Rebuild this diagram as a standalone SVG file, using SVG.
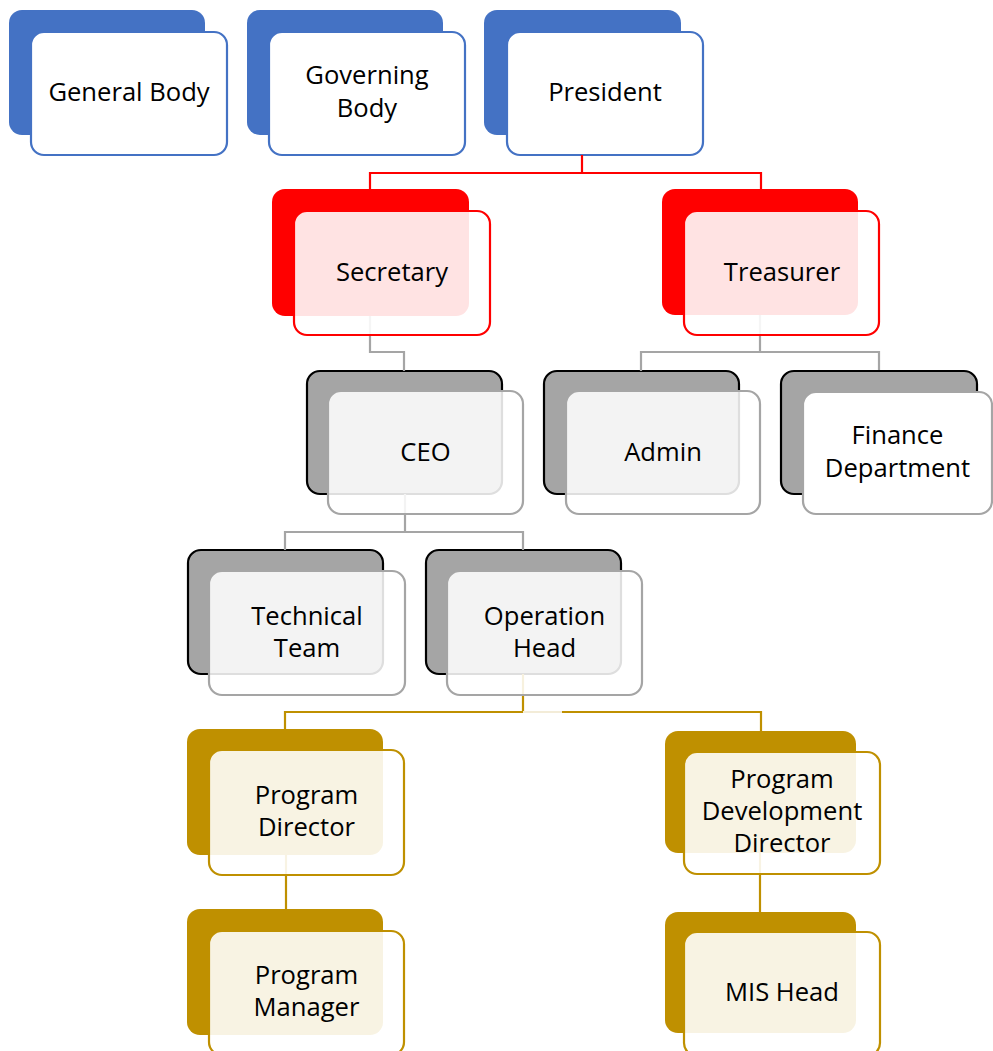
<svg xmlns="http://www.w3.org/2000/svg" width="993" height="1051" viewBox="0 0 993 1051">
<style>
text{font-family:"Open Sans","Liberation Sans",sans-serif;font-size:25.6px;fill:#000;text-anchor:middle}
.bb{fill:#4472C4}
.bf{fill:#fff;stroke:#4472C4;stroke-width:2.2}
.rb{fill:#FF0000}
.rf{fill:#fff;fill-opacity:0.89;stroke:#FF0000;stroke-width:2.2}
.gb{fill:#A5A5A5;stroke:#000;stroke-width:2.2}
.gf{fill:#fff;fill-opacity:0.87;stroke:#A5A5A5;stroke-width:2.2}
.ob{fill:#BF9000}
.of{fill:#fff;fill-opacity:0.89;stroke:#BF9000;stroke-width:2.2}
.c{fill:none;stroke-width:2.2}
.cr{stroke:#FF0000}.cg{stroke:#A5A5A5}.co{stroke:#BF9000}
</style>
<rect width="993" height="1051" fill="#fff"/>
<g id="n-general-body"><rect class="bb" x="9" y="10" width="196" height="125" rx="13"/><rect class="bf" x="31" y="32" width="196" height="123" rx="13"/><text x="129" y="101">General Body</text></g>
<g id="n-governing-body"><rect class="bb" x="247" y="10" width="196" height="125" rx="13"/><rect class="bf" x="269" y="32" width="196" height="123" rx="13"/><text x="367" y="84">Governing</text><text x="367" y="117">Body</text></g>
<g id="n-president"><rect class="bb" x="484" y="10" width="197" height="125" rx="13"/><rect class="bf" x="507" y="32" width="196" height="123" rx="13"/><text x="605" y="101">President</text></g>
<g id="back-layers">
<rect class="rb" x="272" y="189" width="197" height="127" rx="13"/>
<rect class="rb" x="662" y="189" width="196" height="126" rx="13"/>
<rect class="gb" x="307" y="371" width="195" height="123" rx="13"/>
<rect class="gb" x="544" y="371" width="195" height="123" rx="13"/>
<rect class="gb" x="781" y="371" width="196" height="123" rx="13"/>
<rect class="gb" x="188" y="550" width="195" height="124" rx="13"/>
<rect class="gb" x="426" y="550" width="195" height="124" rx="13"/>
<rect class="ob" x="187" y="729" width="196" height="126" rx="13"/>
<rect class="ob" x="665" y="731" width="191" height="122" rx="13"/>
<rect class="ob" x="187" y="909" width="196" height="126" rx="13"/>
<rect class="ob" x="665" y="912" width="191" height="121" rx="13"/>
</g>
<g id="connectors">
<path class="c cr" d="M582 155V173H370V189M582 173H761V189"/>
<path class="c cg" d="M370 316V352H404V371"/>
<path class="c cg" d="M760 315V352M641 371V352H879V370"/>
<path class="c cg" d="M405 494V532M285 550V532H523V550"/>
<path class="c co" d="M523 674V712H285V729M562 712H761V731"/>
<path class="c" stroke="#F3ECD8" d="M523 712H562"/>
<path class="c co" d="M286 855V909"/>
<path class="c co" d="M760 853V912"/>
</g>
<g id="n-secretary"><rect class="rf" x="294" y="211" width="196" height="124" rx="13"/><text x="392" y="281">Secretary</text></g>
<g id="n-treasurer"><rect class="rf" x="684" y="211" width="195" height="124" rx="13"/><text x="782" y="281">Treasurer</text></g>
<g id="n-ceo"><rect class="gf" x="328" y="391" width="195" height="123" rx="13"/><text x="425.5" y="461">CEO</text></g>
<g id="n-admin"><rect class="gf" x="566" y="391" width="194" height="123" rx="13"/><text x="663" y="461">Admin</text></g>
<g id="n-finance"><rect fill="#fff" stroke="#A5A5A5" stroke-width="2.2" x="803" y="392" width="189" height="122" rx="13"/><text x="897.5" y="444">Finance</text><text x="897.5" y="477">Department</text></g>
<g id="n-technical-team"><rect class="gf" x="209" y="571" width="196" height="124" rx="13"/><text x="307" y="625">Technical</text><text x="307" y="657">Team</text></g>
<g id="n-operation-head"><rect class="gf" x="447" y="571" width="195" height="124" rx="13"/><text x="544.5" y="625">Operation</text><text x="544.5" y="657">Head</text></g>
<g id="n-program-director"><rect class="of" x="209" y="750" width="195" height="125" rx="13"/><text x="306.5" y="804">Program</text><text x="306.5" y="836">Director</text></g>
<g id="n-program-development-director"><rect class="of" x="684" y="752" width="196" height="122" rx="13"/><text x="782" y="788">Program</text><text x="782" y="820">Development</text><text x="782" y="852">Director</text></g>
<g id="n-program-manager"><rect class="of" x="209" y="931" width="195" height="124" rx="13"/><text x="306.5" y="984">Program</text><text x="306.5" y="1016">Manager</text></g>
<g id="n-mis-head"><rect class="of" x="684" y="932" width="196" height="124" rx="13"/><text x="782" y="1001">MIS Head</text></g>
</svg>
